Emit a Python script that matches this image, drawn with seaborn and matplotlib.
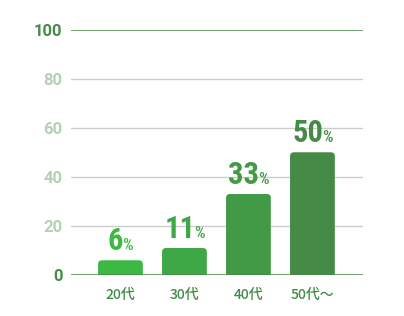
import matplotlib
matplotlib.use("Agg")
import matplotlib.pyplot as plt
import seaborn as sns
import pandas as pd
from matplotlib.patches import FancyBboxPatch
from matplotlib.transforms import offset_copy

categories = ["20代", "30代", "40代", "50代〜"]
values = [6, 11, 33, 50]
bar_colors = ["#3cb843", "#3fa846", "#429a47", "#468b45"]
yticks = [0, 20, 40, 60, 80, 100]

df = pd.DataFrame({"age": categories, "pct": values})

sns.set_style("white")
plt.rcParams["font.family"] = ["Noto Sans CJK JP", "DejaVu Sans"]

fig = plt.figure(figsize=(4.04, 3.16), dpi=100)
ax = fig.add_axes([0.1757, 0.1297, 0.7228, 0.7769])

sns.barplot(data=df, x="age", y="pct", hue="age", palette=bar_colors,
            width=0.70, legend=False, ax=ax, saturation=1)

ax.set_ylim(0, 100)
ax.set_xlim(-0.773, 3.79)

# rounded top corners
fig.canvas.draw()
ppx = (ax.transData.transform((1, 0))[0] - ax.transData.transform((0, 0))[0])
ppy = (ax.transData.transform((0, 1))[1] - ax.transData.transform((0, 0))[1])
r_px = 4.0
for p in list(ax.patches):
    x, y = p.get_x(), p.get_y()
    w, h = p.get_width(), p.get_height()
    fc = p.get_facecolor()
    p.remove()
    ext = 10
    fb = FancyBboxPatch((x, y - ext), w, h + ext,
                        boxstyle=f"round,pad=0,rounding_size={r_px / ppx}",
                        mutation_aspect=ppx / ppy, facecolor=fc,
                        edgecolor="none", zorder=3)
    ax.add_patch(fb)

# gridlines
for t in yticks[1:-1]:
    ax.axhline(t, color="#cccccc", lw=1.0, zorder=1)
ax.axhline(100, color="#468b45", lw=1.1, zorder=2)
ax.axhline(0, color="#468b45", lw=1.1, zorder=4)

for s in ax.spines.values():
    s.set_visible(False)

ax.set_yticks(yticks)
ax.set_yticklabels([str(t) for t in yticks])
ax.tick_params(axis="y", length=0, pad=6)
for lab, t in zip(ax.get_yticklabels(), yticks):
    lab.set_fontfamily("Roboto")
    lab.set_fontweight("bold")
    lab.set_fontsize(12)
    lab.set_color("#468b45" if t in (0, 100) else "#b3d1b3")

ax.tick_params(axis="x", length=0, pad=9)
for lab in ax.get_xticklabels():
    lab.set_fontsize(10)
    lab.set_fontweight("medium")
    lab.set_color("#3f8a43")
ax.set_xlabel("")
ax.set_ylabel("")

# value labels: big number + small %
fig.canvas.draw()
renderer = fig.canvas.get_renderer()
fam = ["Roboto Condensed", "DejaVu Sans"]
for i, (v, c) in enumerate(zip(values, bar_colors)):
    num = ax.text(i, v, str(v), fontsize=22, fontweight="bold",
                  family=fam, fontstretch="condensed",
                  color=c, ha="left", va="baseline")
    pct = ax.text(i, v, "%", fontsize=12, fontweight="medium",
                  family=fam, fontstretch="condensed",
                  color=c, ha="left", va="baseline")
    wn = num.get_window_extent(renderer).width
    wp = pct.get_window_extent(renderer).width
    gap = -1
    total = wn + gap + wp
    dy = 10 * 72 / 100
    num.set_transform(offset_copy(ax.transData, fig=fig, x=-total / 2 * 72 / 100, y=dy, units="points"))
    pct.set_transform(offset_copy(ax.transData, fig=fig, x=(-total / 2 + wn + gap) * 72 / 100, y=dy, units="points"))

fig.savefig("out.png", dpi=100)
